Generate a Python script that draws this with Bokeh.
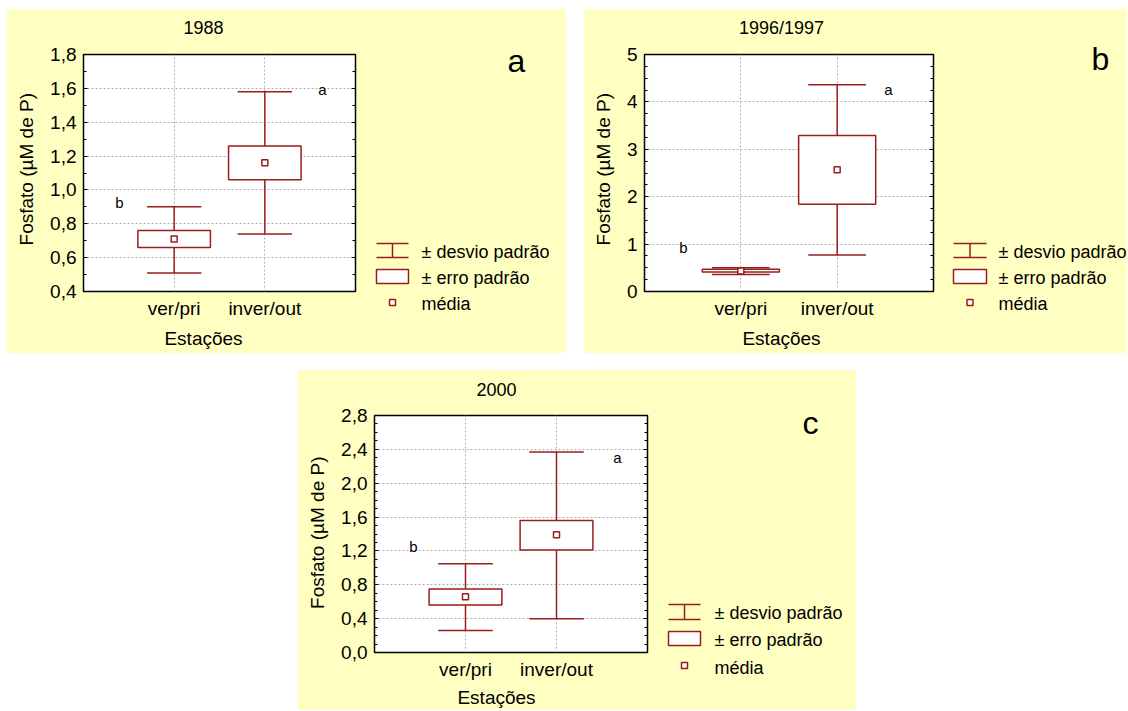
import math
import numpy as np
from bokeh.plotting import figure
from bokeh.models import (Range1d, FactorRange, FixedTicker, LinearAxis, Label,
                          ColumnDataSource, Spacer, CustomJSTickFormatter)
from bokeh.layouts import row, column
from bokeh.transform import dodge
from bokeh.embed import file_html
from bokeh.resources import INLINE
from bokeh.core.properties import value

# ---------------- data ----------------
categories = ["ver/pri", "inver/out"]
sig_letters = ["b", "a"]
legend_labels = ["\u00b1 desvio padr\u00e3o", "\u00b1 erro padr\u00e3o", "m\u00e9dia"]
x_title = "Esta\u00e7\u00f5es"
y_title = "Fosfato (\u00b5M de P)"

# panel a : 1988
a_title = "1988"
a_mean = [0.71, 1.16]
a_se_lo = [0.66, 1.06]
a_se_hi = [0.76, 1.26]
a_sd_lo = [0.51, 0.74]
a_sd_hi = [0.90, 1.58]
a_ticks = [0.4, 0.6, 0.8, 1.0, 1.2, 1.4, 1.6, 1.8]
a_tick_labels = ["0,4", "0,6", "0,8", "1,0", "1,2", "1,4", "1,6", "1,8"]

# panel b : 1996/1997
b_title = "1996/1997"
b_mean = [0.43, 2.57]
b_se_lo = [0.41, 1.84]
b_se_hi = [0.47, 3.29]
b_sd_lo = [0.36, 0.77]
b_sd_hi = [0.50, 4.36]
b_ticks = [0, 1, 2, 3, 4, 5]
b_tick_labels = ["0", "1", "2", "3", "4", "5"]

# panel c : 2000
c_title = "2000"
c_mean = [0.66, 1.39]
c_se_lo = [0.56, 1.21]
c_se_hi = [0.75, 1.56]
c_sd_lo = [0.26, 0.40]
c_sd_hi = [1.05, 2.37]
c_ticks = [0.0, 0.4, 0.8, 1.2, 1.6, 2.0, 2.4, 2.8]
c_tick_labels = ["0,0", "0,4", "0,8", "1,2", "1,6", "2,0", "2,4", "2,8"]

# ---------------- style ----------------
FONT = "Liberation Sans"
RED = "#9A1D1D"
YEL = "#FFFFC2"
GRID = "#B0B0B0"
BG = {"background-color": YEL}


def strip(x0, x1, y0, y1):
    """A plain yellow figure whose data units are page pixels."""
    q = figure(width=x1 - x0, height=y1 - y0, x_range=Range1d(x0, x1),
               y_range=Range1d(y1, y0), output_backend="svg", toolbar_location=None,
               x_axis_type=None, y_axis_type=None, min_border=0,
               min_border_left=0, min_border_right=0, min_border_top=0,
               min_border_bottom=0)
    q.title.text = ""
    q.grid.visible = False
    q.outline_line_color = None
    q.background_fill_color = YEL
    q.border_fill_color = YEL
    q.styles = BG
    return q


def put_text(q, x, y, text, size, align="center", angle=0.0):
    q.text(x=[x], y=[y], text=[text], text_font=value(FONT), text_font_size=size,
           text_align=align, text_baseline="middle", text_color="black", angle=angle)


def make_plot(x0, x1, y0, y1, fl, fr, ft, fb, ticks, tick_labels, n_minor,
              mean, se_lo, se_hi, sd_lo, sd_hi, sig_pos):
    p = figure(width=x1 - x0, height=y1 - y0,
               x_range=FactorRange(factors=categories, range_padding=0.5,
                                   range_padding_units="percent"),
               y_range=Range1d(ticks[0], ticks[-1]),
               output_backend="svg", toolbar_location=None,
               min_border_left=fl - x0, min_border_right=x1 - fr,
               min_border_top=ft - y0, min_border_bottom=y1 - fb)
    p.title.text = ""
    p.background_fill_color = "white"
    p.border_fill_color = YEL
    p.styles = BG
    p.outline_line_color = "black"
    p.outline_line_width = 1.5

    src = ColumnDataSource(dict(cat=categories, mean=mean, se_lo=se_lo,
                                se_hi=se_hi, sd_lo=sd_lo, sd_hi=sd_hi))
    p.segment(x0="cat", y0="sd_lo", x1="cat", y1="sd_hi", source=src,
              line_color=RED, line_width=1.5)
    for key in ("sd_lo", "sd_hi"):
        p.segment(x0=dodge("cat", -0.3, range=p.x_range), y0=key,
                  x1=dodge("cat", 0.3, range=p.x_range), y1=key, source=src,
                  line_color=RED, line_width=1.5)
    p.vbar(x="cat", bottom="se_lo", top="se_hi", width=0.8, source=src,
           fill_color="white", line_color=RED, line_width=1.5)
    p.scatter(x="cat", y="mean", marker="square", size=6, source=src,
              fill_color="white", line_color=RED, line_width=1.5)

    step = ticks[1] - ticks[0]
    minor = [float(v) for v in np.arange(ticks[0], ticks[-1] + 1e-9, step / n_minor)]
    ticker = FixedTicker(ticks=ticks, minor_ticks=minor)
    fmt = CustomJSTickFormatter(args=dict(tv=ticks, tl=tick_labels), code="""
        let best = 0;
        for (let i = 0; i < tv.length; i++) {
            if (Math.abs(tv[i] - tick) < Math.abs(tv[best] - tick)) best = i;
        }
        return tl[best];
    """)
    ya = p.yaxis[0]
    ya.ticker = ticker
    ya.formatter = fmt
    ya.axis_line_color = None
    ya.major_tick_in = 4
    ya.major_tick_out = 0
    ya.minor_tick_in = 3
    ya.minor_tick_out = 0
    ya.major_tick_line_color = "black"
    ya.minor_tick_line_color = "black"
    ya.major_label_standoff = 7
    ya.major_label_text_font = FONT
    ya.major_label_text_font_size = "19px"
    ya.major_label_text_color = "black"

    ra = LinearAxis(ticker=ticker, major_label_text_font_size="6px",
                    major_label_text_color=None, major_label_standoff=0,
                    major_tick_in=4, major_tick_out=0,
                    minor_tick_in=3, minor_tick_out=0, axis_line_color=None,
                    major_tick_line_color="black", minor_tick_line_color="black")
    p.add_layout(ra, "right")

    xa = p.xaxis[0]
    xa.axis_line_color = None
    xa.major_tick_line_color = None
    xa.minor_tick_line_color = None
    xa.major_label_standoff = 0
    xa.major_label_text_font = FONT
    xa.major_label_text_font_size = "19px"
    xa.major_label_text_color = "black"

    for g in (p.xgrid[0], p.ygrid[0]):
        g.grid_line_color = GRID
        g.grid_line_dash = "2 2"
        g.grid_line_width = 1
    p.ygrid[0].ticker = ticker

    for pos, t in zip(sig_pos, sig_letters):
        p.add_layout(Label(x=pos[0] - fl, y=fb - pos[1], x_units="screen", y_units="screen",
                           text=t, text_font=FONT, text_font_size="15px",
                           text_align="center", text_baseline="middle",
                           text_color="black"))
    return p


def make_legend(x0, x1, y0, y1, icon_x0, icon_x1, cap_top, cap_bot,
                box_top, box_bot, mean_y, text_x, text_y, letter, letter_pos):
    q = strip(x0, x1, y0, y1)
    xc = (icon_x0 + icon_x1) / 2
    q.segment(x0=[icon_x0, icon_x0, xc], y0=[cap_top, cap_bot, cap_top],
              x1=[icon_x1, icon_x1, xc], y1=[cap_top, cap_bot, cap_bot],
              line_color=RED, line_width=1.5)
    q.quad(left=[icon_x0], right=[icon_x1], top=[box_top], bottom=[box_bot],
           fill_color="white", line_color=RED, line_width=1.5)
    q.scatter(x=[xc], y=[mean_y], marker="square", size=6, fill_color="white",
              line_color=RED, line_width=1.5)
    for t, ty in zip(legend_labels, text_y):
        put_text(q, text_x, ty, t, "18px", align="left")
    put_text(q, letter_pos[0], letter_pos[1], letter, "32px")
    return q


def make_panel(px0, pmid, py0, py1, top_h, ylab_w, bot_y, plot_right,
               frame, ticks, tick_labels, n_minor, stats, title, title_pos,
               ylab_pos, xlab_pos, sig_pos, legend_args):
    fl, fr, ft, fb = frame
    top = strip(px0, plot_right, py0, py0 + top_h)
    put_text(top, title_pos[0], title_pos[1], title, "18px")
    yl = strip(px0, px0 + ylab_w, py0 + top_h, bot_y)
    put_text(yl, ylab_pos[0], ylab_pos[1], y_title, "19px", angle=math.pi / 2)
    pl = make_plot(px0 + ylab_w, plot_right, py0 + top_h, bot_y, fl, fr, ft, fb,
                   ticks, tick_labels, n_minor, *stats, sig_pos)
    bt = strip(px0, plot_right, bot_y, py1)
    put_text(bt, xlab_pos[0], xlab_pos[1], x_title, "19px")
    lg = make_legend(plot_right, pmid, py0, py1, *legend_args)
    mid = row(yl, pl, spacing=0, styles=BG)
    left = column(top, mid, bt, spacing=0, styles=BG)
    return row(left, lg, spacing=0, styles=BG)


# all positions below are picture pixels
panel_a = make_panel(7, 566, 9, 353, 36, 38, 326, 373, (83, 355, 54, 291),
                     a_ticks, a_tick_labels, 2,
                     (a_mean, a_se_lo, a_se_hi, a_sd_lo, a_sd_hi),
                     a_title, (203, 27), (26, 181), (203, 338),
                     [(119, 202), (322, 89)],
                     (376, 408, 243, 257, 269, 283, 302, 421, [251, 277, 303],
                      "a", (516, 60)))

panel_b = make_panel(584, 1127, 9, 353, 36, 38, 326, 951, (644, 933, 54, 291),
                     b_ticks, b_tick_labels, 4,
                     (b_mean, b_se_lo, b_se_hi, b_sd_lo, b_sd_hi),
                     b_title, (781, 27), (603, 181), (781, 338),
                     [(683, 247), (888, 89)],
                     (953, 986, 243, 257, 269, 283, 302, 998, [251, 277, 303],
                      "b", (1100, 58)))

panel_c = make_panel(298, 856, 370, 710, 36, 38, 687, 665, (374, 647, 415, 652),
                     c_ticks, c_tick_labels, 4,
                     (c_mean, c_se_lo, c_se_hi, c_sd_lo, c_sd_hi),
                     c_title, (496, 389), (317, 545), (496, 697),
                     [(413, 546), (617, 457)],
                     (668, 700, 604, 619, 631, 645, 665, 714, [612, 639, 667],
                      "c", (810, 422)))

layout = column(
    Spacer(width=10, height=9),
    row(Spacer(width=7, height=344), panel_a, Spacer(width=18, height=344), panel_b,
        spacing=0),
    Spacer(width=10, height=17),
    row(Spacer(width=298, height=340), panel_c, spacing=0),
    spacing=0,
)

open("out.html", "w").write(file_html(layout, INLINE))
